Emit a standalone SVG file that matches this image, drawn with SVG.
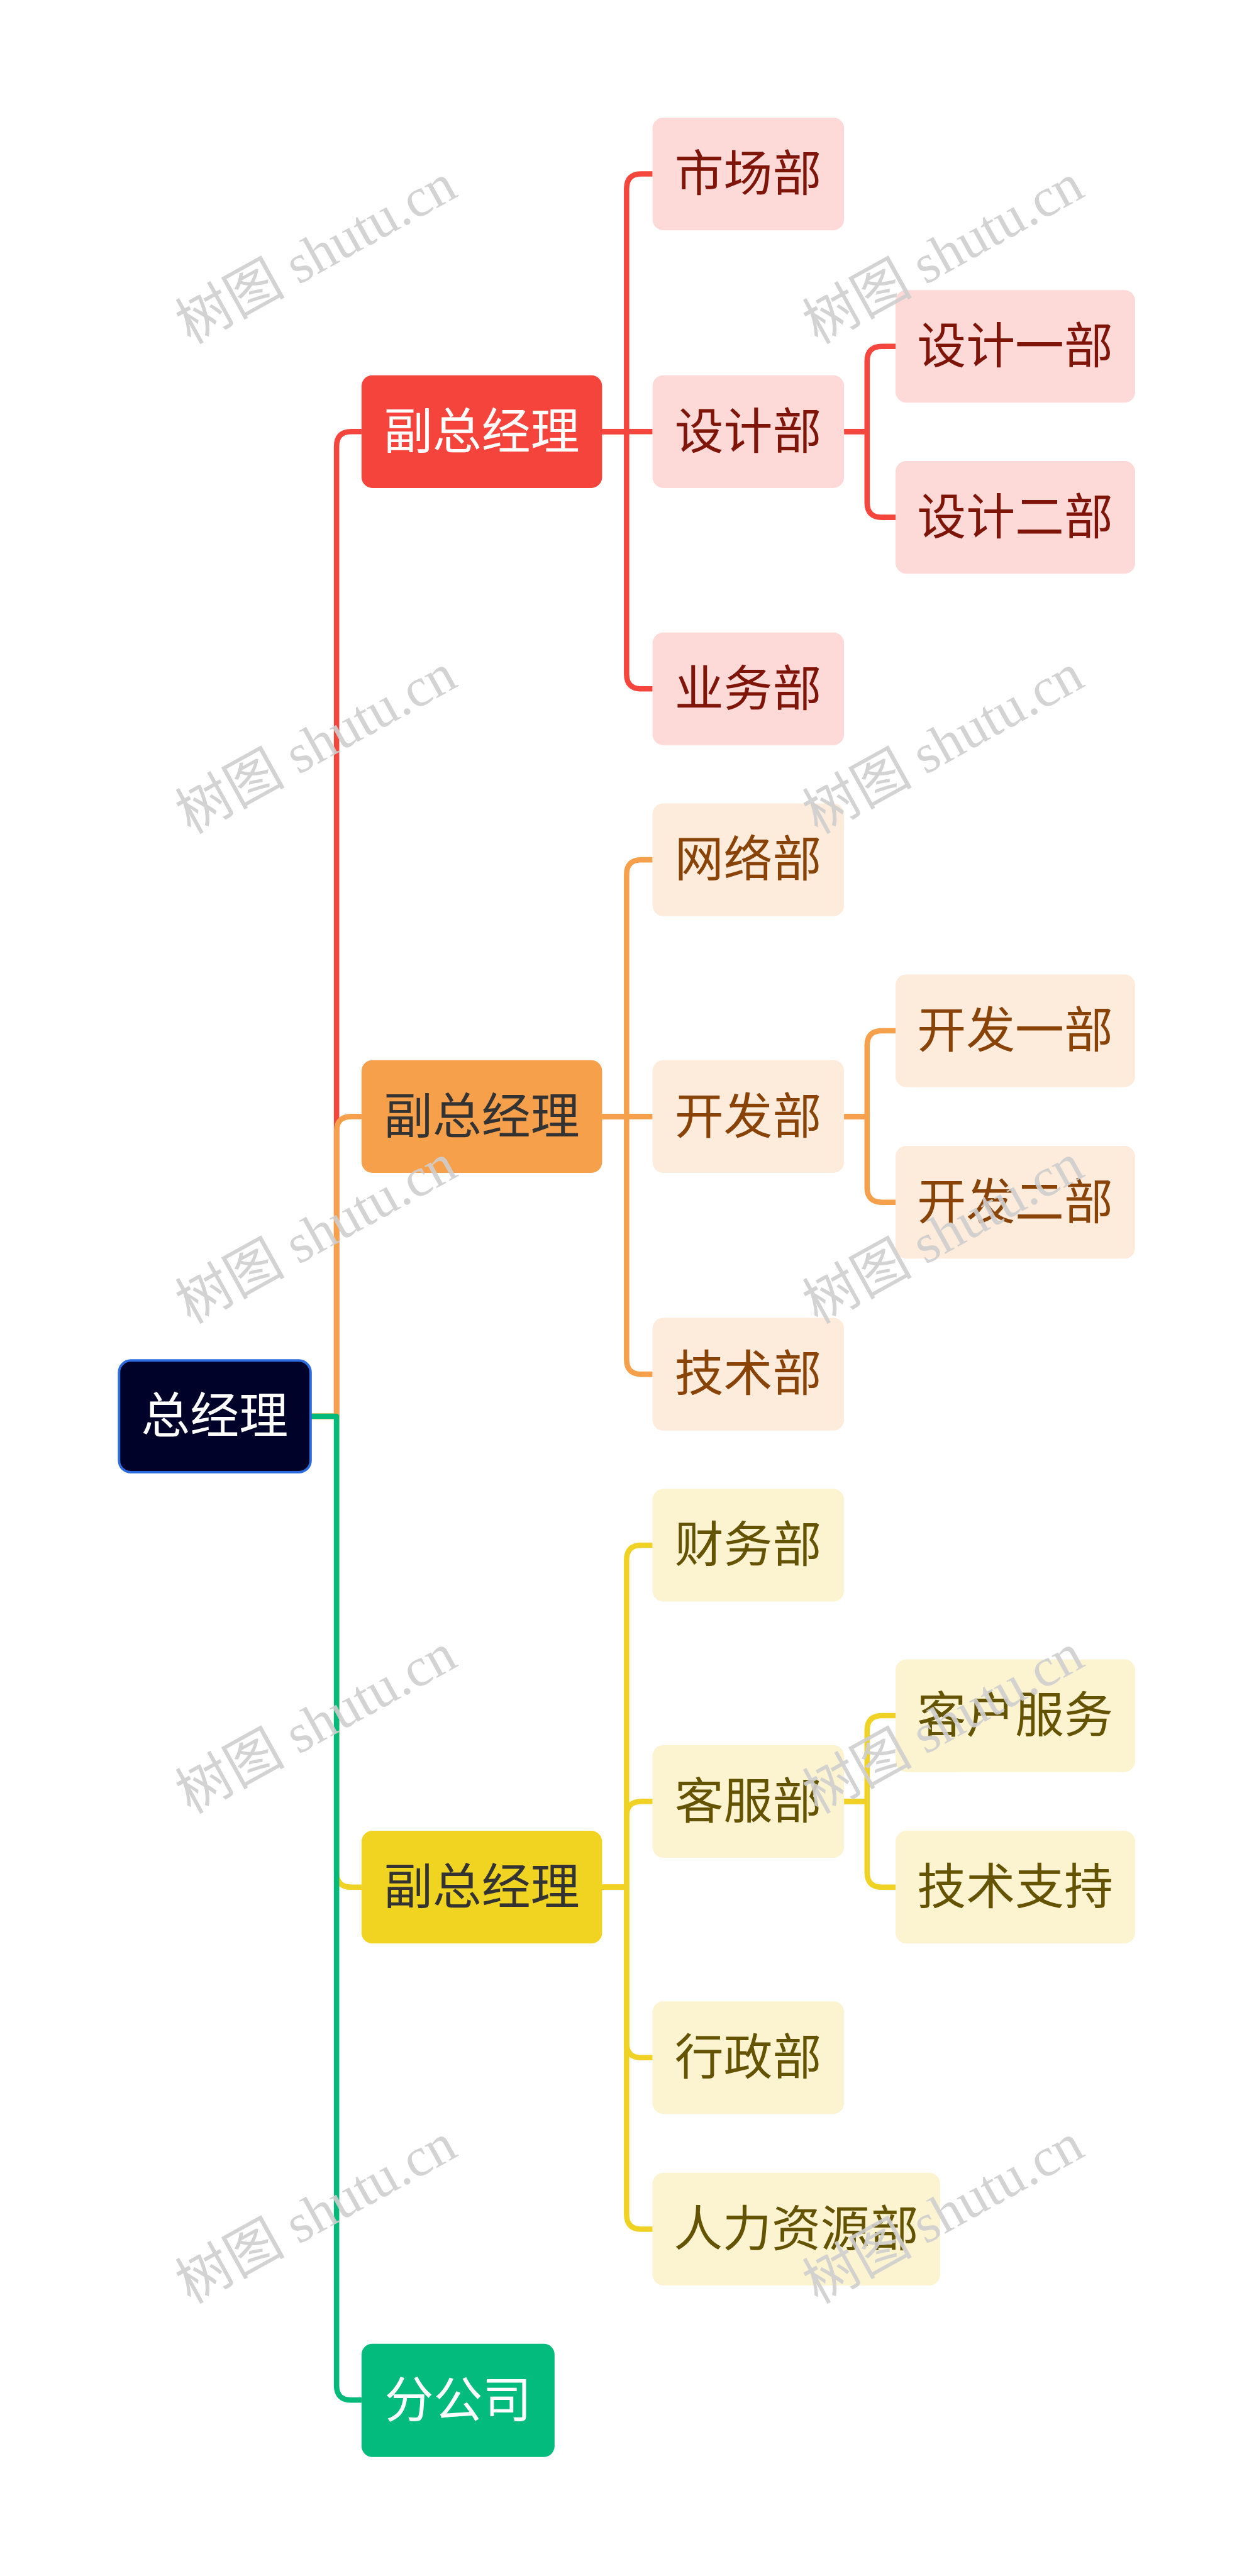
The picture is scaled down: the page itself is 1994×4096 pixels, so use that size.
<svg xmlns="http://www.w3.org/2000/svg" width="1994" height="4096" viewBox="0 0 1994 4096">
<style>
.conn{fill:none;stroke-width:11;stroke-linejoin:round}
.t{font-family:"Noto Sans CJK SC","Noto Sans",sans-serif;font-size:100px;text-anchor:middle}
.wm{font-family:"Liberation Serif","Noto Sans CJK SC",serif;font-size:112px;fill:#cfcfcf;text-anchor:middle;opacity:0.9}
.red{stroke:#f4463d}.org{stroke:#f6a04c}.yel{stroke:#f0d224}.grn{stroke:#03ba7b}
.redc{fill:#fdd9d7}.orgc{fill:#fdebdc}.yelc{fill:#fcf4d1}
.redt{fill:#7f1409}.orgt{fill:#8a4306}.yelt{fill:#645300}
</style>
<rect width="1994" height="4096" fill="#ffffff"/>
<g transform="scale(0.779)">
<g id="connectors">
<path class="conn red" d="M634,2891 H687 V911 Q687,881 717,881 H738"/>
<path class="conn org" d="M634,2891 H687 V2309 Q687,2279 717,2279 H738"/>
<path class="conn yel" d="M634,2891 H687 V3822 Q687,3852 717,3852 H738"/>
<path class="conn grn" d="M634,2891 H687 V4869 Q687,4899 717,4899 H738"/>
<path class="conn red" d="M1229,881 H1279 V385 Q1279,355 1309,355 H1332"/>
<path class="conn red" d="M1229,881 H1332"/>
<path class="conn red" d="M1229,881 H1279 V1376 Q1279,1406 1309,1406 H1332"/>
<path class="conn red" d="M1723,881 H1770 V737 Q1770,707 1800,707 H1828"/>
<path class="conn red" d="M1723,881 H1770 V1026 Q1770,1056 1800,1056 H1828"/>
<path class="conn org" d="M1229,2279 H1279 V1785 Q1279,1755 1309,1755 H1332"/>
<path class="conn org" d="M1229,2279 H1332"/>
<path class="conn org" d="M1229,2279 H1279 V2775 Q1279,2805 1309,2805 H1332"/>
<path class="conn org" d="M1723,2279 H1770 V2134 Q1770,2104 1800,2104 H1828"/>
<path class="conn org" d="M1723,2279 H1770 V2424 Q1770,2454 1800,2454 H1828"/>
<path class="conn yel" d="M1229,3852 H1279 V3184 Q1279,3154 1309,3154 H1332"/>
<path class="conn yel" d="M1229,3852 H1279 V3707 Q1279,3677 1309,3677 H1332"/>
<path class="conn yel" d="M1229,3852 H1279 V4170 Q1279,4200 1309,4200 H1332"/>
<path class="conn yel" d="M1229,3852 H1279 V4520 Q1279,4550 1309,4550 H1332"/>
<path class="conn yel" d="M1723,3677 H1770 V3532 Q1770,3502 1800,3502 H1828"/>
<path class="conn yel" d="M1723,3677 H1770 V3822 Q1770,3852 1800,3852 H1828"/>
</g>
<g id="root"><rect x="243" y="2777" width="391" height="228" rx="24" fill="#000229" stroke="#2e6cdd" stroke-width="5"/><text class="t" x="438" y="2926" fill="#ffffff">总经理</text></g>
<g id="vp1"><rect x="738" y="766" width="491" height="230" rx="22" fill="#f5443c"/><text class="t" x="983" y="916" fill="#ffffff">副总经理</text></g>
<g id="vp2"><rect x="738" y="2164" width="491" height="230" rx="22" fill="#f7a04c"/><text class="t" x="983" y="2314" fill="#333333">副总经理</text></g>
<g id="vp3"><rect x="738" y="3737" width="491" height="230" rx="22" fill="#f1d322"/><text class="t" x="983" y="3887" fill="#333333">副总经理</text></g>
<g id="branch"><rect x="738" y="4784" width="394" height="231" rx="22" fill="#02bb7c"/><text class="t" x="935" y="4934" fill="#ffffff">分公司</text></g>
<g id="market"><rect class="redc" x="1332" y="240" width="391" height="230" rx="22"/><text class="t redt" x="1527" y="390">市场部</text></g>
<g id="design"><rect class="redc" x="1332" y="766" width="391" height="230" rx="22"/><text class="t redt" x="1527" y="916">设计部</text></g>
<g id="design1"><rect class="redc" x="1828" y="592" width="489" height="230" rx="22"/><text class="t redt" x="2072" y="742">设计一部</text></g>
<g id="design2"><rect class="redc" x="1828" y="941" width="489" height="230" rx="22"/><text class="t redt" x="2072" y="1091">设计二部</text></g>
<g id="business"><rect class="redc" x="1332" y="1291" width="391" height="230" rx="22"/><text class="t redt" x="1527" y="1441">业务部</text></g>
<g id="network"><rect class="orgc" x="1332" y="1640" width="391" height="230" rx="22"/><text class="t orgt" x="1527" y="1790">网络部</text></g>
<g id="dev"><rect class="orgc" x="1332" y="2164" width="391" height="230" rx="22"/><text class="t orgt" x="1527" y="2314">开发部</text></g>
<g id="dev1"><rect class="orgc" x="1828" y="1989" width="489" height="230" rx="22"/><text class="t orgt" x="2072" y="2139">开发一部</text></g>
<g id="dev2"><rect class="orgc" x="1828" y="2339" width="489" height="230" rx="22"/><text class="t orgt" x="2072" y="2489">开发二部</text></g>
<g id="tech"><rect class="orgc" x="1332" y="2690" width="391" height="230" rx="22"/><text class="t orgt" x="1527" y="2840">技术部</text></g>
<g id="finance"><rect class="yelc" x="1332" y="3039" width="391" height="230" rx="22"/><text class="t yelt" x="1527" y="3189">财务部</text></g>
<g id="service"><rect class="yelc" x="1332" y="3562" width="391" height="230" rx="22"/><text class="t yelt" x="1527" y="3712">客服部</text></g>
<g id="customer"><rect class="yelc" x="1828" y="3387" width="489" height="230" rx="22"/><text class="t yelt" x="2072" y="3537">客户服务</text></g>
<g id="support"><rect class="yelc" x="1828" y="3737" width="489" height="230" rx="22"/><text class="t yelt" x="2072" y="3887">技术支持</text></g>
<g id="admin"><rect class="yelc" x="1332" y="4085" width="391" height="230" rx="22"/><text class="t yelt" x="1527" y="4235">行政部</text></g>
<g id="hr"><rect class="yelc" x="1332" y="4435" width="587" height="230" rx="22"/><text class="t yelt" x="1625" y="4585">人力资源部</text></g>
<g id="watermarks">
<text class="wm" transform="translate(645,518) rotate(-29)" dy="38">树图 shutu.cn</text>
<text class="wm" transform="translate(1925,518) rotate(-29)" dy="38">树图 shutu.cn</text>
<text class="wm" transform="translate(645,1518) rotate(-29)" dy="38">树图 shutu.cn</text>
<text class="wm" transform="translate(1925,1518) rotate(-29)" dy="38">树图 shutu.cn</text>
<text class="wm" transform="translate(645,2518) rotate(-29)" dy="38">树图 shutu.cn</text>
<text class="wm" transform="translate(1925,2518) rotate(-29)" dy="38">树图 shutu.cn</text>
<text class="wm" transform="translate(645,3518) rotate(-29)" dy="38">树图 shutu.cn</text>
<text class="wm" transform="translate(1925,3518) rotate(-29)" dy="38">树图 shutu.cn</text>
<text class="wm" transform="translate(645,4518) rotate(-29)" dy="38">树图 shutu.cn</text>
<text class="wm" transform="translate(1925,4518) rotate(-29)" dy="38">树图 shutu.cn</text>
</g>
</g>
</svg>
